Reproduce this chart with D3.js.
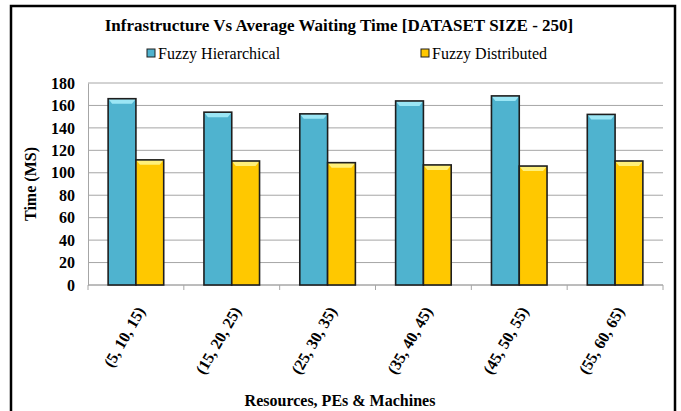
<!DOCTYPE html>
<html>
<head>
<meta charset="utf-8">
<script src="https://cdn.jsdelivr.net/npm/d3@7"></script>
<style>
  body { margin: 0; background: #fff; }
  text { font-family: "Liberation Serif", "DejaVu Serif", serif; }
</style>
</head>
<body>
<div id="chart"></div>
<script>
// data
const categories = ["(5, 10, 15)", "(15, 20, 25)", "(25, 30, 35)", "(35, 40, 45)", "(45, 50, 55)", "(55, 60, 65)"];
const seriesNames = ["Fuzzy Hierarchical", "Fuzzy Distributed"];
const hierarchical = [166, 154, 152.5, 164, 168.5, 152];
const distributed = [111.5, 110.5, 109, 107, 106, 110.5];
const yTicks = [0, 20, 40, 60, 80, 100, 120, 140, 160, 180];

const colors = ["#4fb3cf", "#ffc800"];
const bevel = ["#9be6f5", "#fff07a"];

const W = 681, H = 411;
const margin = { top: 83, right: 18, bottom: 126, left: 88 };
const width = W - margin.left - margin.right,
      height = H - margin.top - margin.bottom;

const svg = d3.select("#chart")
  .append("svg")
    .attr("width", W)
    .attr("height", H);

// outer frame
svg.append("rect")
  .attr("x", 11).attr("y", 6)
  .attr("width", 664).attr("height", 420)
  .attr("fill", "none")
  .attr("stroke", "#000")
  .attr("stroke-width", 2.5);

const g = svg.append("g")
  .attr("transform", `translate(${margin.left}, ${margin.top})`);

const x0 = d3.scaleBand()
  .domain(categories)
  .range([0, width])
  .padding(0);

const x1 = d3.scaleBand()
  .domain(seriesNames)
  .range([x0.bandwidth() * 0.21, x0.bandwidth() * 0.79]);

const y = d3.scaleLinear()
  .domain([0, 180])
  .range([height, 0]);

// gridlines
g.append("g")
  .selectAll("line")
  .data(yTicks)
  .join("line")
    .attr("x1", 0).attr("x2", width)
    .attr("y1", d => y(d)).attr("y2", d => y(d))
    .attr("stroke", "#a6a6a6")
    .attr("stroke-width", 1);

// y axis
const yAxis = g.append("g")
  .call(d3.axisLeft(y).tickValues(yTicks).tickSize(0).tickPadding(13));
yAxis.select(".domain").attr("stroke", "#a6a6a6");
yAxis.selectAll("text")
  .attr("font-family", "Liberation Serif, serif")
  .attr("font-weight", "bold")
  .attr("font-size", 16)
  .attr("fill", "#000");

// x axis line + ticks at category boundaries
const bounds = categories.map(c => x0(c)).concat([width]);
g.append("line")
  .attr("x1", 0).attr("x2", width)
  .attr("y1", height).attr("y2", height)
  .attr("stroke", "#a6a6a6");
g.append("g")
  .selectAll("line")
  .data(bounds)
  .join("line")
    .attr("x1", d => d).attr("x2", d => d)
    .attr("y1", height).attr("y2", height + 5)
    .attr("stroke", "#a6a6a6");

// bars
const rows = categories.map((c, i) => ({ cat: c, vals: [hierarchical[i], distributed[i]] }));
const groups = g.selectAll(".grp")
  .data(rows)
  .join("g")
    .attr("class", "grp")
    .attr("transform", d => `translate(${x0(d.cat)},0)`);

const bars = groups.selectAll("g.bar")
  .data(d => d.vals.map((v, k) => ({ key: seriesNames[k], k, v })))
  .join("g").attr("class", "bar");

bars.append("rect")
  .attr("x", d => x1(d.key))
  .attr("y", d => y(d.v))
  .attr("width", x1.bandwidth())
  .attr("height", d => y(0) - y(d.v))
  .attr("fill", d => colors[d.k]);

// bevel highlight on top
bars.append("path")
  .attr("d", d => {
    const xl = x1(d.key), xr = xl + x1.bandwidth(), yt = y(d.v);
    return `M${xl},${yt}L${xr},${yt}L${xr - 4},${yt + 5}L${xl + 4},${yt + 5}Z`;
  })
  .attr("fill", d => bevel[d.k]);

bars.append("rect")
  .attr("x", d => x1(d.key))
  .attr("y", d => y(d.v))
  .attr("width", x1.bandwidth())
  .attr("height", d => y(0) - y(d.v))
  .attr("fill", "none")
  .attr("stroke", "#1e1e1e")
  .attr("stroke-width", 1.6);

// x tick labels, rotated
g.append("g")
  .selectAll("text")
  .data(categories)
  .join("text")
    .attr("transform", d => `translate(${x0(d) + x0.bandwidth() / 2 + 5}, ${height + 23}) rotate(-60)`)
    .attr("text-anchor", "end")
    .attr("dy", "0.35em")
    .attr("font-weight", "bold")
    .attr("font-size", 16)
    .text(d => d);

// title
svg.append("text")
  .attr("x", 339).attr("y", 31)
  .attr("text-anchor", "middle")
  .attr("font-weight", "bold")
  .attr("font-size", 17)
  .text("Infrastructure Vs Average Waiting Time [DATASET SIZE - 250]");

// legend
const legendX = [147, 421];
const leg = svg.append("g")
  .selectAll("g")
  .data(seriesNames)
  .join("g")
    .attr("transform", (d, i) => `translate(${legendX[i]}, 49)`);
leg.append("rect")
  .attr("width", 8).attr("height", 8)
  .attr("fill", (d, i) => colors[i])
  .attr("stroke", "#1e1e1e").attr("stroke-width", 1);
leg.append("text")
  .attr("x", 11).attr("y", 10)
  .attr("font-size", 16)
  .text(d => d);

// axis titles
svg.append("text")
  .attr("transform", `translate(36, ${margin.top + height / 2}) rotate(-90)`)
  .attr("text-anchor", "middle")
  .attr("font-weight", "bold")
  .attr("font-size", 16)
  .text("Time (MS)");

svg.append("text")
  .attr("x", 340).attr("y", 406)
  .attr("text-anchor", "middle")
  .attr("font-weight", "bold")
  .attr("font-size", 16)
  .text("Resources, PEs & Machines");
</script>
</body>
</html>
